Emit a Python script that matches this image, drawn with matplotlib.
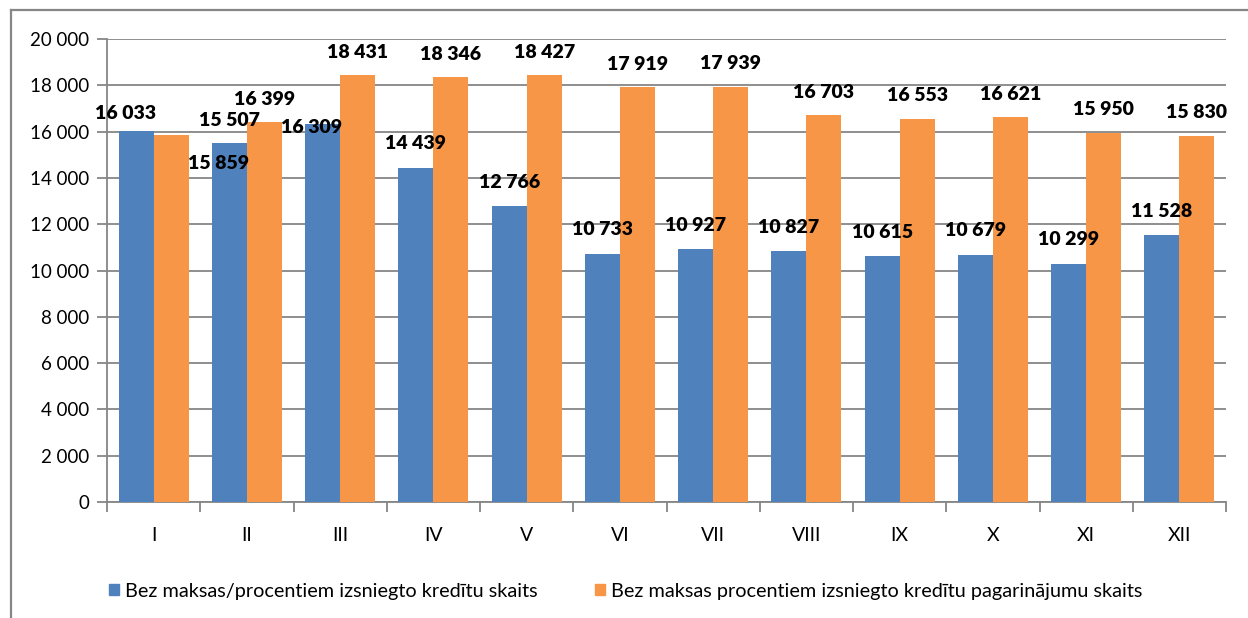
import numpy as np
import matplotlib.pyplot as plt
from matplotlib.lines import Line2D
from matplotlib.patches import Patch

months = ['I', 'II', 'III', 'IV', 'V', 'VI', 'VII', 'VIII', 'IX', 'X', 'XI', 'XII']
credits = [16033, 15507, 16309, 14439, 12766, 10733, 10927, 10827, 10615, 10679, 10299, 11528]
extensions = [15859, 16399, 18431, 18346, 18427, 17919, 17939, 16703, 16553, 16621, 15950, 15830]
label_credits = 'Bez maksas/procentiem izsniegto kredītu skaits'
label_ext = 'Bez maksas procentiem izsniegto kredītu pagarinājumu skaits'

# label offsets in pixels (dx, dy) - most sit above the bar, a few were moved
off_credits = [(-11, 17), (0, 23), (-11, -3)] + [(0, 24)] * 9
off_ext = [(47, -29)] + [(0, 23)] * 11

blue = '#4F81BD'
orange = '#F79646'
grey = '#868686'

plt.rcParams['font.family'] = ['Lato', 'DejaVu Sans']

def fmt(v):
    return '{:,}'.format(v).replace(',', ' ')

fig = plt.figure(figsize=(12.48, 6.18), dpi=100)
ax = fig.add_axes([107/1248, 1 - 502/618, (1226-107)/1248, (502-39)/618])

x = np.arange(len(months))
w = 0.375
b1 = ax.bar(x - w/2, credits, w, color=blue, zorder=3)
b2 = ax.bar(x + w/2, extensions, w, color=orange, zorder=3)

for rect, v, (dx, dy) in zip(b1, credits, off_credits):
    ax.annotate(fmt(v), (rect.get_x() + rect.get_width()/2, v), xytext=(dx, dy),
                textcoords='offset pixels', ha='center', va='center',
                fontsize=14, fontweight='heavy', zorder=5)
for rect, v, (dx, dy) in zip(b2, extensions, off_ext):
    ax.annotate(fmt(v), (rect.get_x() + rect.get_width()/2, v), xytext=(dx, dy),
                textcoords='offset pixels', ha='center', va='center',
                fontsize=14, fontweight='heavy', zorder=5)

ax.set_xlim(-0.5, len(months) - 0.5)
ax.set_ylim(0, 20000)
ax.set_yticks(np.arange(0, 20001, 2000))
ax.set_yticklabels([fmt(v) for v in range(0, 20001, 2000)])
ax.yaxis.grid(True, color=grey, linewidth=1.3, zorder=0)
ax.set_xticks(x)
ax.set_xticklabels(months)
ax.set_xticks(np.arange(-0.5, len(months)), minor=True)
ax.tick_params(axis='x', which='major', length=0, pad=18, labelsize=14)
ax.tick_params(axis='x', which='minor', length=7, color=grey, width=1.3)
ax.tick_params(axis='y', length=7, color=grey, width=1.3, labelsize=13.5, pad=6)

for s in ['top', 'right']:
    ax.spines[s].set_visible(False)
for s in ['left', 'bottom']:
    ax.spines[s].set_color(grey)
    ax.spines[s].set_linewidth(1.3)

# outer chart frame (left and top edges visible)
fig.add_artist(Line2D([11/1248, 11/1248], [0, 1 - 10/618], color=grey, lw=1.6))
fig.add_artist(Line2D([11/1248, 1], [1 - 10/618, 1 - 10/618], color=grey, lw=1.6))

handles = [Patch(color=blue), Patch(color=orange)]
fig.legend(handles, [label_credits, label_ext], loc='center', ncol=2,
           bbox_to_anchor=(626/1248, 1 - 591/618), frameon=False, fontsize=14.3,
           handlelength=0.5, handleheight=0.5, handletextpad=0.3, columnspacing=2.9)

fig.savefig('out.png', dpi=100)
